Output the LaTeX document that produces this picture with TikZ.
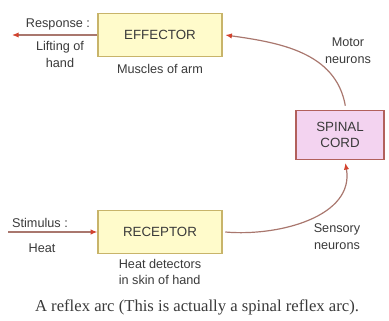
\documentclass[tikz,border=0pt]{standalone}
\usepackage{fontspec}
\setmainfont{Liberation Serif}
\setsansfont{Liberation Sans}
\usetikzlibrary{arrows.meta,positioning}
\definecolor{Ink}{HTML}{3A3A3A}
\definecolor{BoxLine}{HTML}{C8B46A}
\definecolor{BoxFill}{HTML}{FFFBCB}
\definecolor{CordLine}{HTML}{B2605C}
\definecolor{CordFill}{HTML}{F3D3F0}
\definecolor{Nerve}{HTML}{A9776E}
\definecolor{Tip}{HTML}{D2432E}
\tikzset{
  organ/.style={draw=BoxLine,fill=BoxFill,line width=.9pt,minimum width=93pt,minimum height=32pt,font=\sffamily\fontsize{10}{12}\selectfont,text=Ink},
  cord/.style={draw=CordLine,fill=CordFill,line width=.9pt,minimum width=66pt,minimum height=37pt,align=center,font=\sffamily\fontsize{10}{12.5}\selectfont,text=Ink},
  note/.style={align=center,inner sep=1pt,font=\sffamily\fontsize{9.5}{12.75}\selectfont,text=Ink},
  nerve/.style={-{Latex[length=5pt,width=4pt,color=Tip]},draw=Nerve,line width=.9pt}
}
\begin{document}
\begin{tikzpicture}[x=.75pt,y=.75pt]
      \useasboundingbox (0,0) rectangle (389,321);
      \node[organ] (effector) at (160,286) {EFFECTOR};
      \node[organ] (receptor) at (160,89) {RECEPTOR};
      \node[cord] (spinal) at (340,186) {SPINAL\\CORD};
      \node[note,below=4pt of effector] (muscles) {Muscles of arm};
      \node[note,align=left,below=3pt of receptor,font=\sffamily\fontsize{9.5}{11.5}\selectfont] (detectors) {Heat detectors\\in skin of hand};
      % response side
      \coordinate (response) at (12,286);
      \node[note] (resptext) at (58,297) {Response :};
      \node[note] (lifting) at (60,267) {Lifting of\\hand};
      \draw[nerve] (effector.west) -- (response);
      % stimulus side
      \coordinate (stimulus) at (8,89);
      \node[note] (stimtext) at (40,98) {Stimulus :};
      \node[note] (heat) at (42,73) {Heat};
      \draw[nerve] (stimulus) -- (receptor.west);
      % neurons
      \node[note] (motor) at (348,270) {Motor\\neurons};
      \node[note] (sensory) at (337,84) {Sensory\\neurons};
      \draw[nerve] ([xshift=4pt,yshift=3pt]spinal.north) to[out=100,in=-8] ([xshift=2pt]effector.east);
      \draw[nerve] ([xshift=2pt]receptor.east) to[out=-5,in=-80] ([xshift=4pt,yshift=-2pt]spinal.south);
      \node[font=\rmfamily\fontsize{12.5}{14}\selectfont,text=Ink] (caption) at (197,14) {A reflex arc (This is actually a spinal reflex arc).};
    \end{tikzpicture}
\end{document}
